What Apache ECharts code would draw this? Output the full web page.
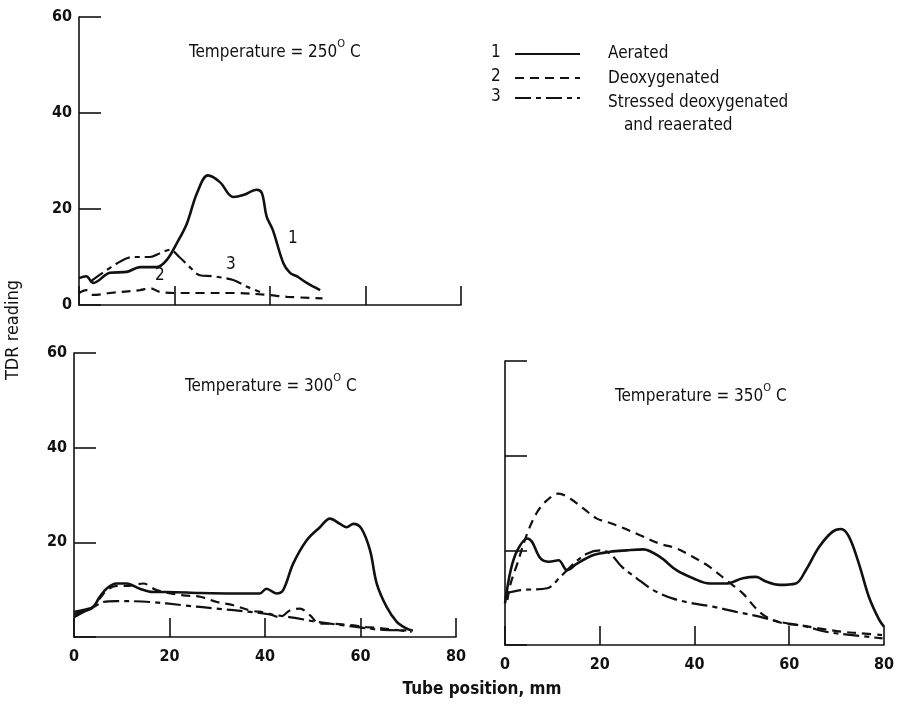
<!DOCTYPE html>
<html>
<head>
<meta charset="utf-8">
<script src="https://cdn.jsdelivr.net/npm/echarts@6/dist/echarts.min.js"></script>
<style>
html,body{margin:0;padding:0;background:#fff;}
#c{width:897px;height:706px;}
</style>
</head>
<body>
<div id="c"></div>
<script>
// ---------- DATA ----------
const xTicks = [0, 20, 40, 60, 80];
const yTicks = [0, 20, 40, 60];

// 250 C
const t250_aer_x = [0, 1.5, 3, 6.5, 10, 12.8, 16.3, 18.4, 20.5, 22.6, 24.7, 27, 29.5, 32.3, 34.4, 37.2, 38.3, 39.3, 40.6, 42.8, 44.2, 45.6, 47.7, 50.5];
const t250_aer_y = [5.6, 6, 4.6, 6.7, 6.9, 7.9, 7.9, 9.4, 12.9, 17, 23.3, 27, 25.6, 22.5, 22.9, 24, 23.3, 18.4, 15.6, 8.7, 6.7, 6, 4.6, 3.1];
const t250_deox_x = [0, 1.5, 3, 6.5, 12.8, 14.9, 17, 20.5, 26, 32.3, 39.4, 43.6, 51];
const t250_deox_y = [2.5, 3.1, 2.1, 2.5, 3.1, 3.5, 2.7, 2.5, 2.5, 2.5, 2.1, 1.7, 1.4];
const t250_str_x = [2.3, 8, 11.3, 14.9, 17, 19, 21, 23.2, 25.3, 28, 32.3, 35.2, 37.9];
const t250_str_y = [4.8, 8.7, 10, 10, 10.8, 11.5, 10, 7.9, 6.2, 6, 5.2, 3.8, 2.7];

// 300 C
const t300_aer_x = [0, 2, 4, 5.4, 6.8, 8.9, 11, 13.8, 16.6, 19.4, 26.4, 33.4, 38.9, 40.3, 42.4, 43.8, 45.9, 48.7, 51.5, 53.6, 55.7, 57.1, 58.5, 60.2, 62, 63.4, 65.5, 67.6, 69.6, 70.7];
const t300_aer_y = [4.2, 5.3, 6.3, 8.5, 10.2, 11.3, 11.3, 10.2, 9.5, 9.5, 9.3, 9.2, 9.2, 10.2, 9.2, 9.9, 15.5, 20.4, 23.2, 25, 23.9, 23.2, 23.9, 22.9, 18.3, 11.3, 6.3, 3.2, 1.8, 1.4];
const t300_deox_x = [0, 2, 4, 5.6, 7, 9, 11.5, 14.5, 17.3, 22.9, 26.4, 29.9, 33.4, 36.9, 40.3, 43.1, 45.2, 47.3, 49.4, 51.5, 54.3, 57.8, 61.3, 64.8, 70.7];
const t300_deox_y = [4.8, 5.5, 6.4, 8.4, 10, 10.8, 10.8, 11.3, 9.9, 8.8, 8.5, 7.4, 6.7, 5.6, 5.1, 4.2, 5.6, 6, 4.6, 2.8, 2.8, 2.5, 2.1, 1.8, 1.1];
const t300_str_x = [0, 4, 6.1, 8.9, 15.9, 22.9, 29.9, 36.9, 42.4, 45.9, 50.8, 57.8, 64.8, 71];
const t300_str_y = [5.3, 6.3, 7.4, 7.6, 7.4, 6.7, 6, 5.3, 4.6, 4.1, 3.2, 2.3, 1.5, 1.4];

// 350 C
const t350_aer_x = [0, 1.2, 2.6, 4.7, 5.7, 7.5, 9.3, 11.3, 13.1, 15.2, 18.7, 22.2, 25.7, 29.2, 32.7, 36.2, 39.7, 43.2, 46.7, 50.2, 53, 55.1, 57.9, 61.4, 63.5, 66.3, 69.1, 70.9, 72.6, 74.7, 76.8, 79, 80];
const t350_aer_y = [8.8, 15.8, 20, 22.5, 21.8, 18.3, 17.6, 17.9, 15.8, 17.2, 19, 19.7, 20, 20.2, 18.6, 15.8, 14.1, 13, 13, 14.1, 14.4, 13.4, 12.7, 13, 15.8, 20.7, 23.9, 24.5, 22.9, 17.2, 10.2, 5.3, 3.9];
const t350_deox_x = [0.5, 1.2, 2.6, 4.7, 6.8, 8.9, 11.3, 13.8, 16.6, 19.4, 21.5, 24.3, 28.5, 32.7, 36.2, 39.7, 43.2, 46.7, 50.2, 53, 55.1, 58.6, 62.1, 66.3, 71.2, 74.7, 79.6];
const t350_deox_y = [9.5, 13, 17.2, 23.6, 28.1, 30.6, 32, 30.9, 28.8, 26.7, 26, 25, 23.2, 21.4, 20.4, 18.6, 16.5, 13.7, 10.9, 7.7, 6, 4.6, 4.2, 3.5, 2.8, 2.5, 2.1];
const t350_str_x = [0.1, 3.3, 8.9, 11.7, 14.5, 17.3, 20.1, 22.2, 24.7, 27.8, 31.3, 35.5, 39.7, 43.9, 48.8, 53.7, 57.9, 63.5, 67.7, 73.3, 79.7];
const t350_str_y = [10.9, 11.6, 12, 14.4, 17.2, 19.3, 20, 19.3, 16.5, 14.1, 11.6, 9.8, 8.8, 8.1, 7, 6, 4.9, 3.9, 2.8, 2.1, 1.4];

const panelTitles = ['250', '300', '350'];
const seriesNames = ['Aerated', 'Deoxygenated', 'Stressed deoxygenated'];
const legendNumbers = ['1', '2', '3'];

// ---------- STYLE ----------
const FONT = "'Liberation Sans Narrow','DejaVu Sans Condensed','Liberation Sans',sans-serif";
const DASHES = ['solid', [9, 6], [16, 5, 5, 5]];
const WIDTHS = [2.6, 2.2, 2.2];

function pairs(xs, ys) { return xs.map((x, i) => [x, ys[i]]); }

const grids = [
  { left: 79, top: 17, width: 382, height: 288 },
  { left: 74, top: 353, width: 382, height: 284 },
  { left: 505, top: 361, width: 380, height: 284 }
];

function xAxis(gi, showLabels) {
  return {
    type: 'value', gridIndex: gi, min: 0, max: 80, interval: 20,
    axisLine: { show: true, lineStyle: { color: '#111', width: 1.6 } },
    axisTick: { show: true, inside: true, length: 19, lineStyle: { color: '#111', width: 1.6 } },
    splitLine: { show: false },
    axisLabel: { show: showLabels, margin: 12, color: '#111', fontFamily: FONT, fontSize: 16, fontWeight: 'bold' }
  };
}
function yAxis(gi, showLabels, showZero) {
  return {
    type: 'value', gridIndex: gi, min: 0, max: 60, interval: 20,
    axisLine: { show: true, lineStyle: { color: '#111', width: 1.6 } },
    axisTick: { show: true, inside: true, length: 22, lineStyle: { color: '#111', width: 1.6 } },
    splitLine: { show: false },
    axisLabel: {
      show: showLabels, margin: 7, color: '#111', fontFamily: FONT, fontSize: 16, fontWeight: 'bold',
      formatter: v => (v === 0 && !showZero) ? '' : String(v)
    }
  };
}

const allData = [
  [[t250_aer_x, t250_aer_y], [t250_deox_x, t250_deox_y], [t250_str_x, t250_str_y]],
  [[t300_aer_x, t300_aer_y], [t300_deox_x, t300_deox_y], [t300_str_x, t300_str_y]],
  [[t350_aer_x, t350_aer_y], [t350_deox_x, t350_deox_y], [t350_str_x, t350_str_y]]
];

const series = [];
allData.forEach((panel, gi) => {
  panel.forEach((d, si) => {
    series.push({
      type: 'line', name: seriesNames[si], xAxisIndex: gi, yAxisIndex: gi,
      data: pairs(d[0], d[1]), smooth: 0.35, showSymbol: false, symbol: 'none',
      lineStyle: { color: '#111', width: WIDTHS[si], type: DASHES[si] },
      z: 3 - si
    });
  });
});

const titlePos = [{ left: 184, top: 34 }, { left: 180, top: 368 }, { left: 610, top: 378 }];
const titles = panelTitles.map((t, i) => ({
  text: '{a|Temperature = ' + t + '}{s|O}{a| C}',
  left: titlePos[i].left, top: titlePos[i].top,
  textStyle: {
    rich: {
      a: { fontFamily: FONT, fontSize: 17, fontWeight: 'normal', color: '#111', lineHeight: 22, verticalAlign: 'bottom' },
      s: { fontFamily: FONT, fontSize: 11, fontWeight: 'normal', color: '#111', lineHeight: 22, verticalAlign: 'top' }
    }
  }
}));

const textStyleBase = { fill: '#111', font: '17px ' + FONT };
const graphic = [];
// legend
const legY = [54, 78, 98];
legendNumbers.forEach((n, i) => {
  graphic.push({ type: 'text', left: 491, top: legY[i] - 10, style: Object.assign({ text: n }, textStyleBase) });
  graphic.push({ type: 'line', shape: { x1: 515, y1: legY[i], x2: 580, y2: legY[i] },
    style: { stroke: '#111', lineWidth: 2, lineDash: i === 0 ? null : DASHES[i] } });
});
graphic.push({ type: 'text', left: 608, top: 45, style: Object.assign({ text: 'Aerated' }, textStyleBase) });
graphic.push({ type: 'text', left: 608, top: 70, style: Object.assign({ text: 'Deoxygenated' }, textStyleBase) });
graphic.push({ type: 'text', left: 608, top: 94, style: Object.assign({ text: 'Stressed deoxygenated' }, textStyleBase) });
graphic.push({ type: 'text', left: 624, top: 117, style: Object.assign({ text: 'and reaerated' }, textStyleBase) });
// curve labels in 250 panel
graphic.push({ type: 'text', left: 288, top: 230, style: Object.assign({ text: '1' }, textStyleBase) });
graphic.push({ type: 'text', left: 155, top: 267, style: Object.assign({ text: '2' }, textStyleBase) });
graphic.push({ type: 'text', left: 226, top: 256, style: Object.assign({ text: '3' }, textStyleBase) });
// axis titles
graphic.push({ type: 'text', x: 13, y: 330, rotation: Math.PI / 2,
  style: { text: 'TDR reading', fill: '#111', font: '18px ' + FONT, textAlign: 'center', textVerticalAlign: 'middle' } });
graphic.push({ type: 'text', x: 482, y: 690,
  style: { text: 'Tube position, mm', fill: '#111', font: 'bold 17px ' + FONT, textAlign: 'center', textVerticalAlign: 'middle' } });

const chart = echarts.init(document.getElementById('c'), null, { renderer: 'canvas' });
chart.setOption({
  backgroundColor: '#fff',
  animation: false,
  title: titles,
  grid: grids,
  xAxis: [xAxis(0, false), xAxis(1, true), xAxis(2, true)],
  yAxis: [yAxis(0, true, true), yAxis(1, true, false), yAxis(2, false, false)],
  series: series,
  graphic: graphic
});
</script>
</body>
</html>
